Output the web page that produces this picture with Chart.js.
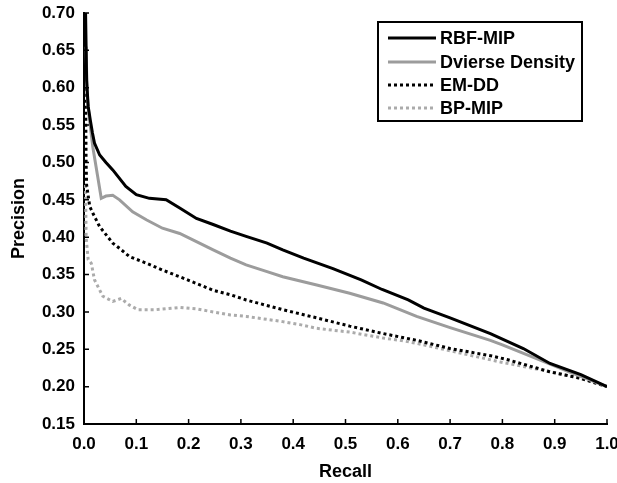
<!DOCTYPE html>
<html>
<head>
<meta charset="utf-8">
<script src="https://cdn.jsdelivr.net/npm/chart.js@4.4.1/dist/chart.umd.min.js"></script>
<style>
  html, body { margin: 0; padding: 0; background: #fff; }
  #wrap { width: 617px; height: 483px; }
</style>
</head>
<body>
<div id="wrap"><canvas id="prChart" width="617" height="483"></canvas></div>
<script>
// series names (legend order)
const seriesNames = ['RBF-MIP', 'Dvierse Density', 'EM-DD', 'BP-MIP'];

// tick values / labels
const xTickValues = [0.0, 0.1, 0.2, 0.3, 0.4, 0.5, 0.6, 0.7, 0.8, 0.9, 1.0];
const xTickLabels = ['0.0', '0.1', '0.2', '0.3', '0.4', '0.5', '0.6', '0.7', '0.8', '0.9', '1.0'];
const yTickValues = [0.15, 0.20, 0.25, 0.30, 0.35, 0.40, 0.45, 0.50, 0.55, 0.60, 0.65, 0.70];
const yTickLabels = ['0.15', '0.20', '0.25', '0.30', '0.35', '0.40', '0.45', '0.50', '0.55', '0.60', '0.65', '0.70'];

// RBF-MIP
const rbfRecall = [0.003, 0.005, 0.008, 0.012, 0.016, 0.020, 0.030, 0.042, 0.055, 0.080, 0.100, 0.125, 0.157, 0.183, 0.215, 0.247, 0.280, 0.310, 0.350, 0.380, 0.420, 0.476, 0.530, 0.570, 0.620, 0.650, 0.700, 0.777, 0.840, 0.891, 0.950, 1.000];
const rbfPrecision = [0.700, 0.610, 0.575, 0.557, 0.540, 0.526, 0.510, 0.500, 0.490, 0.468, 0.457, 0.452, 0.450, 0.439, 0.425, 0.417, 0.408, 0.401, 0.392, 0.383, 0.372, 0.358, 0.343, 0.330, 0.316, 0.305, 0.292, 0.271, 0.251, 0.231, 0.216, 0.200];

// Diverse Density
const ddRecall = [0.004, 0.006, 0.010, 0.017, 0.026, 0.033, 0.042, 0.055, 0.068, 0.093, 0.120, 0.150, 0.183, 0.215, 0.247, 0.280, 0.310, 0.350, 0.380, 0.445, 0.508, 0.572, 0.604, 0.636, 0.700, 0.777, 0.800, 0.870, 0.930, 1.000];
const ddPrecision = [0.655, 0.590, 0.560, 0.520, 0.482, 0.452, 0.455, 0.456, 0.450, 0.434, 0.423, 0.412, 0.405, 0.394, 0.383, 0.372, 0.363, 0.354, 0.347, 0.336, 0.325, 0.312, 0.303, 0.294, 0.279, 0.262, 0.256, 0.236, 0.219, 0.200];

// EM-DD
const emRecall = [0.003, 0.004, 0.005, 0.011, 0.017, 0.030, 0.055, 0.068, 0.087, 0.120, 0.150, 0.183, 0.215, 0.247, 0.280, 0.310, 0.380, 0.445, 0.508, 0.572, 0.636, 0.700, 0.780, 0.810, 0.890, 0.950, 1.000];
const emPrecision = [0.600, 0.500, 0.470, 0.441, 0.432, 0.414, 0.392, 0.385, 0.374, 0.365, 0.356, 0.347, 0.338, 0.329, 0.323, 0.316, 0.303, 0.292, 0.281, 0.271, 0.262, 0.251, 0.241, 0.236, 0.220, 0.211, 0.200];

// BP-MIP
const bpRecall = [0.003, 0.004, 0.008, 0.014, 0.020, 0.036, 0.055, 0.071, 0.087, 0.103, 0.138, 0.183, 0.215, 0.247, 0.280, 0.310, 0.380, 0.413, 0.445, 0.508, 0.572, 0.604, 0.636, 0.700, 0.796, 0.891, 0.950, 1.000];
const bpPrecision = [0.470, 0.400, 0.370, 0.365, 0.343, 0.321, 0.314, 0.318, 0.309, 0.303, 0.303, 0.306, 0.304, 0.300, 0.296, 0.294, 0.287, 0.283, 0.278, 0.273, 0.265, 0.262, 0.258, 0.248, 0.233, 0.220, 0.211, 0.200];

const FONT = "'Liberation Sans', Arial, Helvetica, sans-serif";

function toPoints(xs, ys) {
    return xs.map((x, i) => ({ x: x, y: ys[i] }));
}

// inward tick marks on both axes
const innerTicks = {
    id: 'innerTicks',
    afterDatasetsDraw(chart) {
        const { ctx, chartArea, scales } = chart;
        ctx.save();
        ctx.strokeStyle = '#000';
        ctx.lineWidth = 1.5;
        ctx.beginPath();
        scales.x.ticks.forEach(t => {
            const px = scales.x.getPixelForValue(t.value);
            ctx.moveTo(px, chartArea.bottom);
            ctx.lineTo(px, chartArea.bottom - 5);
        });
        scales.y.ticks.forEach(t => {
            const py = scales.y.getPixelForValue(t.value);
            ctx.moveTo(chartArea.left, py);
            ctx.lineTo(chartArea.left + 5, py);
        });
        ctx.stroke();
        ctx.restore();
    }
};

// boxed legend in the upper right
const boxLegend = {
    id: 'boxLegend',
    afterDraw(chart) {
        const ctx = chart.ctx;
        const box = { x: 378, y: 22, w: 204, h: 99 };
        ctx.save();
        ctx.strokeStyle = '#000';
        ctx.lineWidth = 2;
        ctx.strokeRect(box.x, box.y, box.w, box.h);
        ctx.font = 'bold 18px ' + FONT;
        ctx.textBaseline = 'middle';
        ctx.fillStyle = '#000';
        const rowY = [38, 62, 85, 108];
        chart.data.datasets.forEach((ds, i) => {
            const y = rowY[i];
            ctx.beginPath();
            ctx.strokeStyle = ds.borderColor;
            ctx.lineWidth = ds.borderWidth;
            ctx.setLineDash(ds.borderDash || []);
            ctx.moveTo(388, y);
            ctx.lineTo(436, y);
            ctx.stroke();
            ctx.setLineDash([]);
            ctx.fillText(ds.label, 440, y + 1);
        });
        ctx.restore();
    }
};

const ctx = document.getElementById('prChart').getContext('2d');
const prChart = new Chart(ctx, {
    type: 'line',
    data: {
        datasets: [
            {
                label: seriesNames[0],
                data: toPoints(rbfRecall, rbfPrecision),
                borderColor: '#000000',
                borderWidth: 3
            },
            {
                label: seriesNames[1],
                data: toPoints(ddRecall, ddPrecision),
                borderColor: '#9c9c9c',
                borderWidth: 3
            },
            {
                label: seriesNames[2],
                data: toPoints(emRecall, emPrecision),
                borderColor: '#000000',
                borderWidth: 3,
                borderDash: [3, 3]
            },
            {
                label: seriesNames[3],
                data: toPoints(bpRecall, bpPrecision),
                borderColor: '#ababab',
                borderWidth: 3,
                borderDash: [3, 3]
            }
        ]
    },
    options: {
        responsive: false,
        animation: false,
        devicePixelRatio: 1,
        layout: {
            padding: { left: 0, right: 10, top: 13, bottom: 0 }
        },
        elements: {
            point: { radius: 0 },
            line: { tension: 0, fill: false }
        },
        plugins: {
            legend: { display: false },
            tooltip: { enabled: false }
        },
        scales: {
            x: {
                type: 'linear',
                min: 0,
                max: 1,
                afterBuildTicks: s => { s.ticks = xTickValues.map(v => ({ value: v })); },
                afterFit: s => { s.height = 59; s.paddingLeft = 0; s.paddingRight = 0; },
                ticks: {
                    color: '#000',
                    padding: 10,
                    maxRotation: 0,
                    autoSkip: false,
                    font: { family: FONT, size: 17, weight: 'bold' },
                    callback: (v, i) => xTickLabels[i]
                },
                grid: { drawOnChartArea: false, drawTicks: false },
                border: { display: true, color: '#000', width: 2 },
                title: {
                    display: true,
                    text: 'Recall',
                    color: '#000',
                    padding: { top: 0, bottom: 0 },
                    font: { family: FONT, size: 18, weight: 'bold' }
                }
            },
            y: {
                type: 'linear',
                min: 0.15,
                max: 0.70,
                afterBuildTicks: s => { s.ticks = yTickValues.map(v => ({ value: v })); },
                afterFit: s => { s.width = 84; s.paddingTop = 0; s.paddingBottom = 0; },
                ticks: {
                    color: '#000',
                    padding: 9,
                    autoSkip: false,
                    font: { family: FONT, size: 17, weight: 'bold' },
                    callback: (v, i) => yTickLabels[i]
                },
                grid: { drawOnChartArea: false, drawTicks: false },
                border: { display: true, color: '#000', width: 2 },
                title: {
                    display: true,
                    text: 'Precision',
                    color: '#000',
                    padding: { top: 8, bottom: 0 },
                    font: { family: FONT, size: 18, weight: 'bold' }
                }
            }
        }
    },
    plugins: [innerTicks, boxLegend]
});
</script>
</body>
</html>
